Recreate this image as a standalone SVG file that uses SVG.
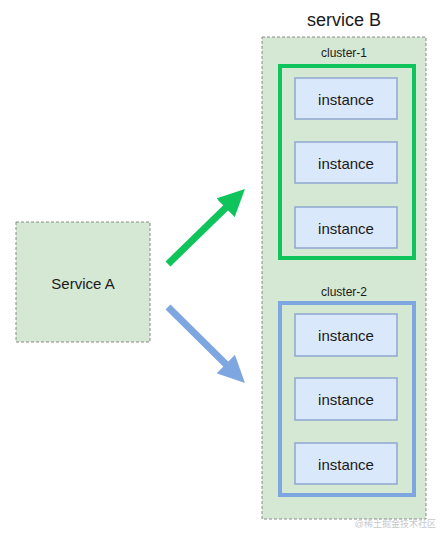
<svg xmlns="http://www.w3.org/2000/svg" width="440" height="533" viewBox="0 0 440 533">
<style>
text{font-family:"Liberation Sans",Arial,sans-serif;fill:#1a1a1a;text-anchor:middle;dominant-baseline:central}
.dash{fill:#d5e8d4;stroke:#8a8a8a;stroke-width:1;stroke-dasharray:3 2}
.inst{fill:#dae8fc;stroke:#8fa6d0;stroke-width:1.5}
.it{font-size:15px}
.cl{font-size:12px}
</style>
<defs>
<marker id="ahG" markerUnits="userSpaceOnUse" markerWidth="27" markerHeight="26" refX="12" refY="13" orient="auto"><path d="M0,0 L27,13 L0,26 z" fill="#10c45c"/></marker>
<marker id="ahB" markerUnits="userSpaceOnUse" markerWidth="27" markerHeight="26" refX="12" refY="13" orient="auto"><path d="M0,0 L27,13 L0,26 z" fill="#7ea6e0"/></marker>
</defs>
<rect width="440" height="533" fill="#fff"/>
<g id="serviceA">
<rect class="dash" x="16" y="222" width="134" height="120"/>
<text x="83" y="283" style="font-size:15px">Service A</text>
</g>
<g id="serviceB">
<text x="344" y="20" style="font-size:18px">service B</text>
<rect class="dash" x="262" y="37" width="164" height="482"/>
</g>
<g id="cluster1">
<text class="cl" x="344" y="53">cluster-1</text>
<rect x="280" y="66" width="134" height="192" fill="none" stroke="#10c45c" stroke-width="4"/>
</g>
<g id="c1i1"><rect class="inst" x="295" y="78" width="102" height="41"/><text class="it" x="346" y="99">instance</text></g>
<g id="c1i2"><rect class="inst" x="295" y="142" width="102" height="41"/><text class="it" x="346" y="163">instance</text></g>
<g id="c1i3"><rect class="inst" x="295" y="207" width="102" height="41"/><text class="it" x="346" y="228">instance</text></g>
<g id="cluster2">
<text class="cl" x="344" y="292">cluster-2</text>
<rect x="280" y="303" width="134" height="192" fill="none" stroke="#7ea6e0" stroke-width="4"/>
</g>
<g id="c2i1"><rect class="inst" x="295" y="314" width="102" height="42"/><text class="it" x="346" y="335">instance</text></g>
<g id="c2i2"><rect class="inst" x="295" y="378" width="102" height="42"/><text class="it" x="346" y="399">instance</text></g>
<g id="c2i3"><rect class="inst" x="295" y="443" width="102" height="41"/><text class="it" x="346" y="464">instance</text></g>
<g id="connectors">
<line x1="168" y1="264" x2="234.2" y2="199.4" stroke="#10c45c" stroke-width="7" marker-end="url(#ahG)"/>
<line x1="168" y1="307" x2="234.3" y2="372.5" stroke="#7ea6e0" stroke-width="7" marker-end="url(#ahB)"/>
</g>
<text x="436" y="524" style="font-size:9px;fill:#c8c8c8;text-anchor:end;font-family:'Liberation Sans','Noto Sans CJK SC',sans-serif">@稀土掘金技术社区</text>
</svg>
